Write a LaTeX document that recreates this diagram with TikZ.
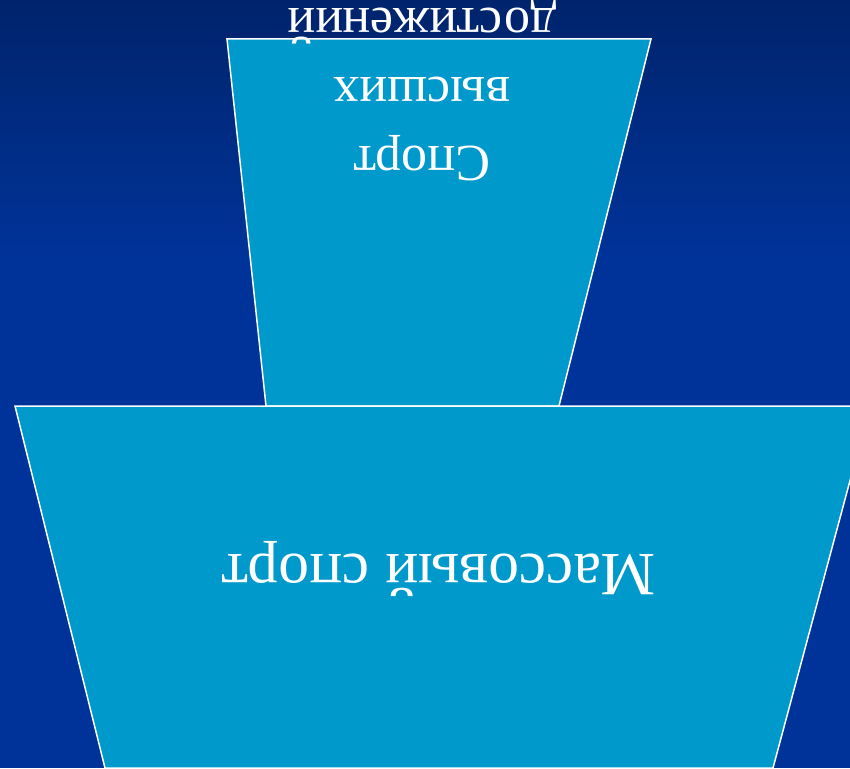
\documentclass[tikz,border=0pt]{standalone}
\usepackage{fontspec}
\setmainfont{Liberation Serif}
\definecolor{bgtop}{HTML}{00246C}
\definecolor{bgmid}{HTML}{003399}
\definecolor{trap}{HTML}{0099CC}
\begin{document}
\begin{tikzpicture}[x=1pt,y=-1pt,
  trapbox/.style={fill=trap,draw=white,line width=1.5pt,line join=miter},
  flipped/.style={text=white,rotate=180,align=center,inner sep=0pt}]
\useasboundingbox (0,0) rectangle (850,768);
\shade[top color=bgtop,bottom color=bgmid] (0,0) rectangle (850,260);
\fill[bgmid] (0,259) rectangle (850,768);
% top trapezoid
\draw[trapbox] (227,39) -- (651,39) -- (559,406) -- (266,406) -- cycle;
% bottom trapezoid
\draw[trapbox] (15,406) -- (870,406) -- (773,768) -- (105,768) -- cycle;
\node[flipped,font=\fontsize{52}{69}\selectfont] (elite) at (422,90) {Спорт\\высших\\достижений};
\node[flipped,font=\fontsize{61.5}{72}\selectfont] (mass) at (439,569) {Массовый спорт};
\end{tikzpicture}
\end{document}
